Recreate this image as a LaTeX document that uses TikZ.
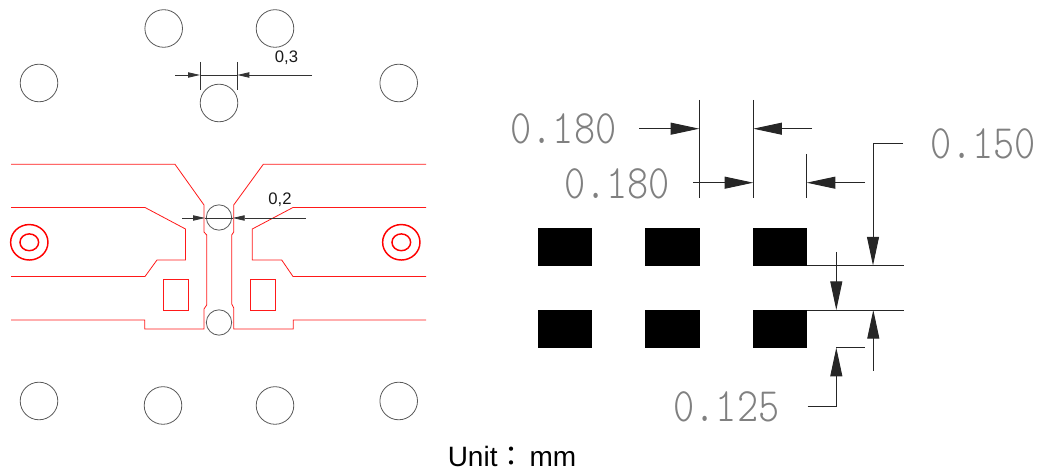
\documentclass[tikz,border=0pt]{standalone}
\usepackage{fontspec}
\usepackage{graphicx}
\setsansfont{Liberation Sans}
\newfontfamily\cjkf{Noto Sans CJK TC}
\usetikzlibrary{arrows.meta}
\newcommand{\cadtext}[1]{\scalebox{0.84}[1]{\ttfamily\fontseries{l}\fontsize{36}{36}\selectfont #1}}
\tikzset{
  hole/.style={draw=black!65,line width=.6pt},
  trace/.style={draw=red!90!white,line width=.6pt,line join=miter},
  via/.style={draw=red,line width=1.1pt},
  dimthin/.style={draw=black!80,line width=.6pt},
  smalltip/.style={dimthin,-{Triangle[length=9pt,width=4pt]}},
  bigdim/.style={draw=black!85,line width=.7pt},
  bigtip/.style={bigdim,-{Triangle[length=21.5pt,width=9pt]}},
  pad/.style={fill=black},
  dimlabel/.style={font=\sffamily\fontsize{12.5}{12.5}\selectfont,inner sep=0pt,text=black!90},
  cadlabel/.style={inner sep=0pt,text=black!50},
}
\begin{document}
\begin{tikzpicture}[x=0.75pt,y=-0.75pt]
\useasboundingbox (0,0) rectangle (1040,473);
% holes
\foreach \cx/\cy in {163.7/28.5,275/28.5,39/83,398.7/83,219/103,39/401,163/405.5,275/405.5,398.7/401}
  \draw[hole] (\cx,\cy) circle[radius=14.1pt];
\draw[hole] (219,217.5) circle[radius=9.5pt];
\draw[hole] (219,322.5) circle[radius=9.5pt];
% left traces
\draw[trace] (11,164.3) -- (175,164.3) -- (204,205) -- (204,232) -- (206.7,235) -- (206.7,305) -- (204,309) -- (204,329) -- (144.7,329) -- (144.7,320) -- (11,320);
\draw[trace] (11,207.5) -- (145,207.5) -- (185.5,229) -- (185.5,260) -- (157,260) -- (145,276.5) -- (11,276.5);
\draw[trace] (163,279) rectangle (188,310);
% right traces
\draw[trace] (426,164.3) -- (263.3,164.3) -- (233.7,205) -- (233.7,232) -- (231.7,235) -- (231.7,304) -- (233.7,308) -- (233.7,329) -- (293.3,329) -- (293.3,320) -- (426,320);
\draw[trace] (426,207.5) -- (293,207.5) -- (252.3,229) -- (252.3,260) -- (281.7,260) -- (293,276.5) -- (426,276.5);
\draw[trace] (250,279) rectangle (275,310);
% vias
\draw[via] (29.3,242.3) ellipse[x radius=14pt,y radius=13.3pt];
\draw[via] (29.3,242.3) ellipse[x radius=7pt,y radius=6.3pt];
\draw[via] (401.3,242.3) ellipse[x radius=14pt,y radius=13.3pt];
\draw[via] (401.3,242.3) ellipse[x radius=7pt,y radius=6.3pt];
% 0,3
\draw[dimthin] (200,62) -- (200,90);
\draw[dimthin] (237.3,62) -- (237.3,90);
\draw[dimthin] (200,75) -- (237.3,75);
\draw[smalltip] (175,75) -- (200,75);
\draw[smalltip] (312,75) -- (237.3,75);
\node[dimlabel] (lblA) at (286.5,57.5) {0,3};
% 0,2
\draw[dimthin] (205,218) -- (232.7,218);
\draw[smalltip] (182,218) -- (205,218);
\draw[smalltip] (305.7,218) -- (232.7,218);
\node[dimlabel] (lblB) at (280,200) {0,2};
% pads
\foreach \px/\qx in {538.3/592.3,645/700,752.7/807.3}{
  \fill[pad] (\px,228.3) rectangle (\qx,266);
  \fill[pad] (\px,309.7) rectangle (\qx,348.3);
}
% right dims
\draw[bigdim] (699.3,100) -- (699.3,198);
\draw[bigdim] (753.3,100) -- (753.3,198);
\draw[bigdim] (806.7,154) -- (806.7,198);
\draw[bigtip] (639,128.7) -- (699.3,128.7);
\draw[bigtip] (812,128.7) -- (753.3,128.7);
\draw[bigtip] (693,182.7) -- (753.3,182.7);
\draw[bigtip] (865,182.7) -- (806.7,182.7);
\draw[bigdim] (807,265.5) -- (904,265.5);
\draw[bigdim] (807,310) -- (904,310);
\draw[bigtip] (903,143.3) -- (873,143.3) -- (873,265.5);
\draw[bigtip] (836.3,252) -- (836.3,310);
\draw[bigtip] (873.3,370.7) -- (873.3,310);
\draw[bigtip] (807.7,406.7) -- (836.3,406.7) -- (836.3,347.7);
\draw[bigdim] (836.3,347.7) -- (865,347.7);
\node[cadlabel] (lblC) at (563.5,128.5) {\cadtext{0.180}};
\node[cadlabel] (lblD) at (617,183.5) {\cadtext{0.180}};
\node[cadlabel] (lblE) at (983,143.5) {\cadtext{0.150}};
\node[cadlabel] (lblF) at (726.5,407) {\cadtext{0.125}};
\node[anchor=base west,inner sep=0pt,text=black,font=\sffamily\fontsize{21}{21}\selectfont] (unit) at (447.5,466.7) {Unit{\cjkf ：}\hspace{3pt}mm};
\end{tikzpicture}
\end{document}
